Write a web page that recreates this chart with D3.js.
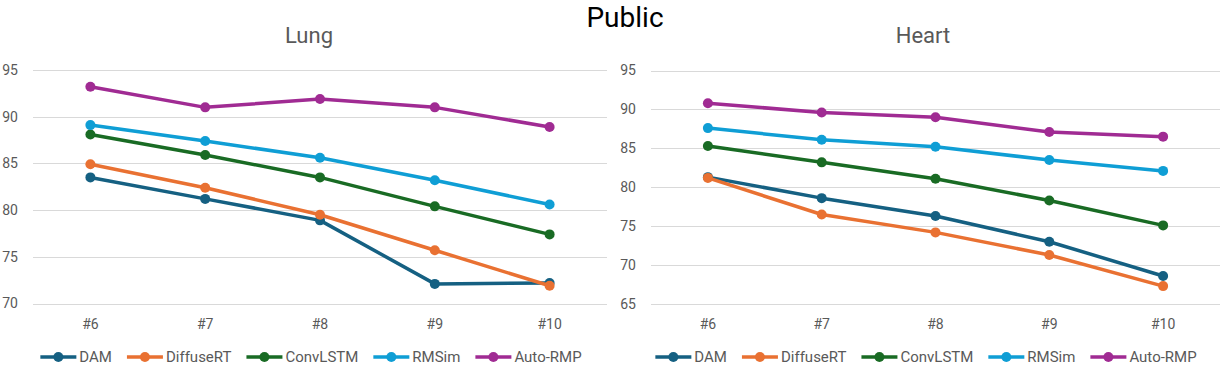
<!DOCTYPE html>
<html lang="en">
<head>
    <meta charset="UTF-8">
    <title>Public - Lung / Heart</title>
    <script src="https://d3js.org/d3.v7.min.js"></script>
    <style>
        body { margin: 0; background: #fff; font-family: Roboto, "Open Sans", sans-serif; }
        .grid line { stroke: #d9d9d9; stroke-width: 1px; }
        .tick-label { fill: #595959; font-size: 14px; }
        .panel-title { fill: #595959; font-size: 22px; text-anchor: middle; }
        .main-title { fill: #000; font-size: 28px; text-anchor: middle; }
        .legend text { fill: #595959; font-size: 15px; }
        .series { fill: none; stroke-width: 3.5px; stroke-linejoin: round; }
    </style>
</head>
<body>
    <svg id="chart" width="1224" height="368"></svg>

    <script>
        // categories and series names
        var categories = ["#6", "#7", "#8", "#9", "#10"];
        var seriesNames = ["DAM", "DiffuseRT", "ConvLSTM", "RMSim", "Auto-RMP"];
        var colors = ["#156082", "#E97132", "#196B24", "#0F9ED5", "#A02B93"];

        // Lung values
        var lungDAM       = [83.5, 81.2, 78.9, 72.1, 72.2];
        var lungDiffuseRT = [84.9, 82.4, 79.5, 75.7, 71.9];
        var lungConvLSTM  = [88.1, 85.9, 83.5, 80.4, 77.4];
        var lungRMSim     = [89.1, 87.4, 85.6, 83.2, 80.6];
        var lungAutoRMP   = [93.2, 91.0, 91.9, 91.0, 88.9];
        var lungTicks = [70, 75, 80, 85, 90, 95];

        // Heart values
        var heartDAM       = [81.3, 78.6, 76.3, 73.0, 68.6];
        var heartDiffuseRT = [81.2, 76.5, 74.2, 71.3, 67.3];
        var heartConvLSTM  = [85.3, 83.2, 81.1, 78.3, 75.1];
        var heartRMSim     = [87.6, 86.1, 85.2, 83.5, 82.1];
        var heartAutoRMP   = [90.8, 89.6, 89.0, 87.1, 86.5];
        var heartTicks = [65, 70, 75, 80, 85, 90, 95];

        var svg = d3.select("#chart");

        // Main title
        svg.append("text")
            .attr("class", "main-title")
            .attr("x", 625)
            .attr("y", 27)
            .text("Public");

        function drawPanel(opts) {
            var g = svg.append("g");

            var x = d3.scaleBand()
                .domain(categories)
                .range([opts.left, opts.right]);

            var y = d3.scaleLinear()
                .domain([opts.ticks[0], opts.ticks[opts.ticks.length - 1]])
                .range([opts.bottom, opts.top]);

            // title
            g.append("text")
                .attr("class", "panel-title")
                .attr("x", opts.titleX)
                .attr("y", 43)
                .text(opts.title);

            // gridlines
            g.append("g")
                .attr("class", "grid")
                .selectAll("line")
                .data(opts.ticks)
                .join("line")
                .attr("x1", opts.left)
                .attr("x2", opts.right)
                .attr("y1", function(d) { return Math.round(y(d)) + 0.5; })
                .attr("y2", function(d) { return Math.round(y(d)) + 0.5; });

            // y tick labels
            g.selectAll(".ylab")
                .data(opts.ticks)
                .join("text")
                .attr("class", "tick-label")
                .attr("x", opts.left - 15)
                .attr("y", function(d) { return y(d); })
                .attr("dy", "0.35em")
                .attr("text-anchor", "end")
                .text(function(d) { return d; });

            // x tick labels
            g.selectAll(".xlab")
                .data(categories)
                .join("text")
                .attr("class", "tick-label")
                .attr("x", function(d) { return x(d) + x.bandwidth() / 2; })
                .attr("y", opts.bottom + 25)
                .attr("text-anchor", "middle")
                .text(function(d) { return d; });

            var line = d3.line()
                .x(function(d, i) { return x(categories[i]) + x.bandwidth() / 2; })
                .y(function(d) { return y(d); });

            opts.series.forEach(function(vals, s) {
                g.append("path")
                    .datum(vals)
                    .attr("class", "series")
                    .attr("stroke", colors[s])
                    .attr("d", line);

                g.selectAll(".dot" + s)
                    .data(vals)
                    .join("circle")
                    .attr("cx", function(d, i) { return x(categories[i]) + x.bandwidth() / 2; })
                    .attr("cy", function(d) { return y(d); })
                    .attr("r", 5)
                    .attr("fill", colors[s]);
            });

            // legend
            var legend = g.append("g").attr("class", "legend");
            var lx = 0;
            seriesNames.forEach(function(name, s) {
                var item = legend.append("g").attr("transform", "translate(" + lx + ",0)");
                item.append("line")
                    .attr("x1", 0).attr("x2", 36)
                    .attr("y1", 0).attr("y2", 0)
                    .attr("stroke", colors[s])
                    .attr("stroke-width", 3.5);
                item.append("circle")
                    .attr("cx", 18).attr("cy", 0).attr("r", 5)
                    .attr("fill", colors[s]);
                var t = item.append("text")
                    .attr("x", 39)
                    .attr("dy", "0.35em")
                    .text(name);
                lx += 39 + t.node().getComputedTextLength() + 15;
            });
            var total = lx - 15;
            legend.attr("transform", "translate(" + (opts.legendX - total / 2) + ",357)");
        }

        drawPanel({
            title: "Lung", titleX: 309, legendX: 311,
            left: 33, right: 607, top: 70, bottom: 303.5,
            ticks: lungTicks,
            series: [lungDAM, lungDiffuseRT, lungConvLSTM, lungRMSim, lungAutoRMP]
        });

        drawPanel({
            title: "Heart", titleX: 923, legendX: 926,
            left: 651, right: 1220, top: 70.5, bottom: 304,
            ticks: heartTicks,
            series: [heartDAM, heartDiffuseRT, heartConvLSTM, heartRMSim, heartAutoRMP]
        });
    </script>
</body>
</html>
